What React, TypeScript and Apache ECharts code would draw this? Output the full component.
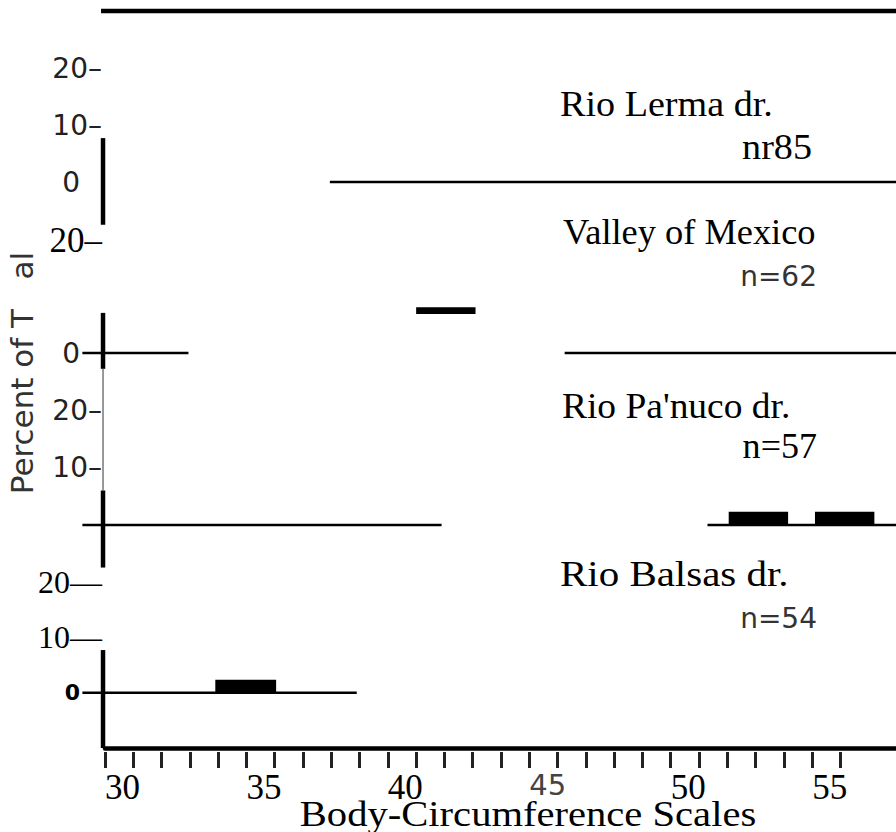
import React, { useEffect, useRef } from "react";
import * as echarts from "echarts";

// ---------- data ----------
const panelNames = ["Rio Lerma dr.", "Valley of Mexico", "Rio Pa'nuco dr.", "Rio Balsas dr."];
const panelCounts = ["nr85", "n=62", "n=57", "n=54"];

const xTickLabels = ["30", "35", "40", "45", "50", "55"];
const xMinorTicks = [30, 31, 32, 33, 34, 35, 36, 37, 38, 39, 40, 41, 42, 43, 44, 45, 46, 47, 48, 49, 50, 51, 52, 53, 54, 55, 56];

// y tick labels at values 0, 10, 20 (Balsas: -10, 0, 10, 20)
const lermaYLabels = ["0", "10–", "20–"];
const valleyYLabels = ["0", "", "20–"];
const panucoYLabels = ["", "10–", "20–"];
const balsasYLabels = ["", "0", "10—", "20—"];

// bars: [scaleFrom, scaleTo, percentLow, percentHigh]
const lermaBars: number[][] = [];
const valleyBars = [[41.0, 43.1, 6.9, 8.1]];
const panucoBars = [[52.05, 54.15, 0, 2.3], [55.1, 57.2, 0, 2.3]];
const balsasBars = [[33.9, 36.05, 0, 2.35]];

// zero lines: [scaleFrom, scaleTo, percent]
const lermaBaselines = [[37.95, 58, 0]];
const valleyBaselines = [[29.2, 32.95, 0], [46.25, 58, 0]];
const panucoBaselines = [[29.2, 41.9, 0], [51.3, 58, 0]];
const balsasBaselines = [[29.2, 38.9, 0]];
const topRule = [[29.86, 58, 30]];

// vertical axis pieces: [scale, percentLow, percentHigh]
const lermaAxis = [[29.93, -7.5, 7.7]];
const valleyAxis = [[29.93, -2.8, 7.1]];
const valleyAxisThin = [[29.93, -24.4, -2.8]];
const panucoAxis = [[29.93, -7.4, 6.0]];
const balsasAxis = [[29.93, -10, 7.7]];

// ---------- helpers ----------
const rectRender = (params: any, api: any) => {
  const p0 = api.coord([api.value(0), api.value(3)]);
  const p1 = api.coord([api.value(1), api.value(2)]);
  return {
    type: "rect",
    shape: { x: p0[0], y: p0[1], width: p1[0] - p0[0], height: p1[1] - p0[1] },
    style: { fill: "#000" },
  };
};
const hlineRender = (w: number, color = "#000") => (params: any, api: any) => {
  const a = api.coord([api.value(0), api.value(2)]);
  const b = api.coord([api.value(1), api.value(2)]);
  return {
    type: "line",
    shape: { x1: a[0], y1: a[1], x2: b[0], y2: b[1] },
    style: { stroke: color, lineWidth: w },
  };
};
const vlineRender = (w: number, color = "#000") => (params: any, api: any) => {
  const a = api.coord([api.value(0), api.value(1)]);
  const b = api.coord([api.value(0), api.value(2)]);
  return {
    type: "line",
    shape: { x1: a[0], y1: a[1], x2: b[0], y2: b[1] },
    style: { stroke: color, lineWidth: w },
  };
};

const makeRich = (): any => ({
  s: { fontFamily: "DejaVu Sans", fontSize: 28, color: "#222" },
  sz: { fontFamily: "DejaVu Sans", fontSize: 28, color: "#222", padding: [0, 22, 0, 0] },
  t: { fontFamily: "Liberation Serif", fontSize: 35, color: "#000" },
  t2: { fontFamily: "Liberation Serif", fontSize: 32, color: "#000" },
  bz: { fontFamily: "DejaVu Sans", fontSize: 22, fontWeight: "bold", color: "#000", padding: [0, 22, 0, 0] },
  xt: { fontFamily: "Liberation Serif", fontSize: 35, color: "#000" },
  xg: { fontFamily: "DejaVu Sans", fontSize: 29, color: "#444" },
});

export default function App() {
  const ref = useRef<HTMLDivElement>(null);
  useEffect(() => {
    if (!ref.current) return;
    const chart = echarts.init(ref.current, null, { renderer: "svg" });

    const grids = [
      { left: 105, width: 792, top: 68, height: 114 },
      { left: 105, width: 792, top: 240, height: 113 },
      { left: 105, width: 792, top: 410, height: 115 },
      { left: 105, width: 792, top: 582, height: 166 },
    ].map((g) => ({ ...g, outerBoundsMode: "none", containLabel: false }));

    const yLabelSets = [lermaYLabels, valleyYLabels, panucoYLabels, balsasYLabels];
    const yStyleKeys = [
      ["sz", "s", "s"],
      ["sz", "s", "t"],
      ["s", "s", "s"],
      ["s", "bz", "t2", "t2"],
    ];
    const yMins = [0, 0, 0, -10];

    const yAxis = yLabelSets.map((labels, i) => ({
      type: "value",
      gridIndex: i,
      min: yMins[i],
      max: 20,
      interval: 10,
      axisLine: { show: false, onZero: false },
      axisTick: { show: false },
      splitLine: { show: false },
      axisLabel: {
        margin: 3,
        align: "right",
        formatter: (v: number) => {
          const k = Math.round((v - yMins[i]) / 10);
          const t = labels[k];
          if (!t) return "";
          return `{${yStyleKeys[i][k]}|${t}}`;
        },
        rich: makeRich(),
      },
    }));

    const xAxis: any[] = [0, 1, 2].map((i) => ({
      type: "value",
      gridIndex: i,
      min: 30,
      max: 58,
      show: false,
    }));
    xAxis.push({
      type: "value",
      gridIndex: 3,
      min: 30,
      max: 58,
      interval: 5,
      position: "bottom",
      axisLine: { show: true, onZero: false, lineStyle: { color: "#000", width: 4.5 } },
      axisTick: { show: false },
      splitLine: { show: false },
      axisLabel: {
        margin: 22,
        align: "left",
        fontFamily: "Liberation Serif",
        fontSize: 35,
        color: "#000",
        formatter: (v: number) => {
          const idx = xTickLabels.indexOf(String(v));
          if (idx < 0) return "";
          return v === 45 ? `{xg|${xTickLabels[idx]}}` : `{xt|${xTickLabels[idx]}}`;
        },
        rich: makeRich(),
      },
    });
    xAxis.push({
      type: "value",
      gridIndex: 3,
      min: 30,
      max: 58,
      interval: 1,
      position: "bottom",
      offset: 4,
      axisLine: { show: false, onZero: false },
      axisTick: {
        show: true,
        length: 16,
        customValues: xMinorTicks,
        lineStyle: { color: "#222", width: 3 },
      },
      axisLabel: { show: false },
      splitLine: { show: false },
    });

    const series: any[] = [];
    const add = (idx: number, data: number[][], render: any, encode: any) => {
      if (!data.length) return;
      series.push({
        type: "custom",
        xAxisIndex: idx,
        yAxisIndex: idx,
        clip: false,
        renderItem: render,
        encode,
        data,
        silent: true,
      });
    };
    const barSets = [lermaBars, valleyBars, panucoBars, balsasBars];
    const baseSets = [lermaBaselines, valleyBaselines, panucoBaselines, balsasBaselines];
    const axisSets = [lermaAxis, valleyAxis, panucoAxis, balsasAxis];
    for (let i = 0; i < 4; i++) {
      add(i, baseSets[i], hlineRender(2.5), { x: [0, 1], y: 2 });
      add(i, axisSets[i], vlineRender(4.5), { x: 0, y: [1, 2] });
      add(i, barSets[i], rectRender, { x: [0, 1], y: [2, 3] });
    }
    add(0, topRule, hlineRender(4.5), { x: [0, 1], y: 2 });
    add(1, valleyAxisThin, vlineRender(1.2, "#555"), { x: 0, y: [1, 2] });

    const serif = "Liberation Serif";
    const titleLayout = [
      { x: 560, y: 104, sx: 1.09, cx: 812, cy: 147, csx: 1.09, cSans: false },
      { x: 563, y: 232, sx: 1.04, cx: 817, cy: 276, csx: 1, cSans: true },
      { x: 562, y: 406, sx: 1.07, cx: 817, cy: 446, csx: 1.03, cSans: false },
      { x: 560, y: 574, sx: 1.17, cx: 817, cy: 618, csx: 1, cSans: true },
    ];
    const graphic: any[] = [];
    titleLayout.forEach((l, i) => {
      graphic.push({
        type: "text",
        x: l.x,
        y: l.y,
        scaleX: l.sx,
        style: {
          text: panelNames[i],
          fontFamily: serif,
          fontSize: 35,
          fill: "#000",
          align: "left",
          verticalAlign: "middle",
        },
      });
      graphic.push({
        type: "text",
        x: l.cx,
        y: l.cy,
        scaleX: l.csx,
        style: {
          text: panelCounts[i],
          fontFamily: l.cSans ? "DejaVu Sans" : serif,
          fontSize: l.cSans ? 28 : 35,
          fill: l.cSans ? "#333" : "#000",
          align: "right",
          verticalAlign: "middle",
        },
      });
    });
    graphic.push({
      type: "text",
      x: 528,
      y: 814,
      scaleX: 1.16,
      style: {
        text: "Body-Circumference Scales",
        fontFamily: serif,
        fontSize: 35,
        fill: "#000",
        align: "center",
        verticalAlign: "middle",
      },
    });
    graphic.push({
      type: "text",
      x: 22,
      y: 373,
      rotation: Math.PI / 2,
      style: {
        text: "Percent of T\u00A0\u00A0\u00A0al",
        fontFamily: "DejaVu Sans",
        fontSize: 31,
        fill: "#333",
        align: "center",
        verticalAlign: "middle",
      },
    });

    chart.setOption({
      animation: false,
      backgroundColor: "#fff",
      grid: grids,
      xAxis,
      yAxis,
      series,
      graphic,
    });
    return () => chart.dispose();
  }, []);
  return (
    <div
      ref={ref}
      style={{ position: "absolute", left: 0, top: 0, width: 896, height: 832 }}
    />
  );
}
